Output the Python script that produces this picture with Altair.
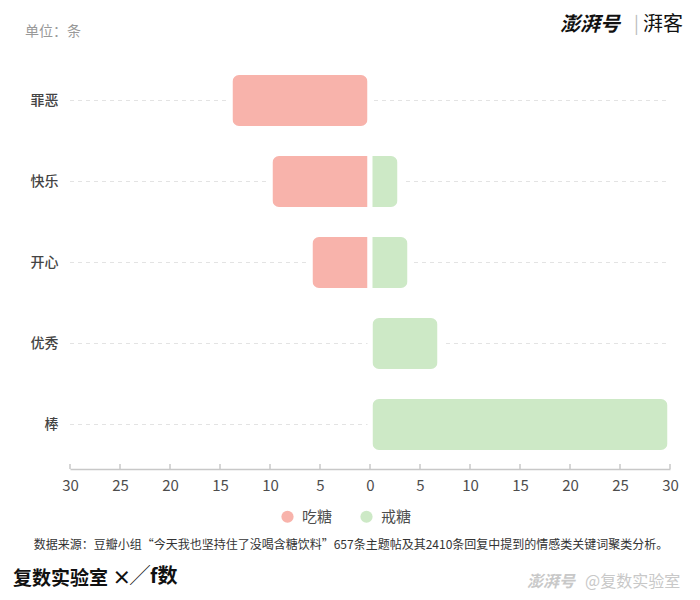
import altair as alt
import pandas as pd

categories = ["罪恶", "快乐", "开心", "优秀", "棒"]
eat_values = [14, 10, 6, 0, 0]      # 吃糖
quit_values = [0, 3, 4, 7, 30]      # 戒糖
groups = ["吃糖", "戒糖"]
colors = ["#f8b3ab", "#cde9c6"]
x_ticks = [-30, -25, -20, -15, -10, -5, 0, 5, 10, 15, 20, 25, 30]

rows = []
for c, e, q in zip(categories, eat_values, quit_values):
    if e:
        rows.append({"类别": c, "组": "吃糖", "值": -e})
    if q:
        rows.append({"类别": c, "组": "戒糖", "值": q})
bars_df = pd.DataFrame(rows)
cat_df = pd.DataFrame({"类别": categories})
tick_df = pd.DataFrame({"t": x_ticks})

FONT = "Noto Sans CJK SC"
W, H = 600, 405

yscale = alt.Scale(domain=categories, paddingInner=0.31, paddingOuter=0.155)
xscale = alt.Scale(domain=[-30, 30], nice=False)

grid = alt.Chart(cat_df).mark_rule(color="#e3e3e3", strokeDash=[4, 4], strokeWidth=1).encode(
    y=alt.Y("类别:N", scale=yscale, sort=categories,
            axis=alt.Axis(title=None, domain=False, ticks=False, labelFontSize=14,
                          labelColor="#444444", labelFont=FONT, labelFontWeight=500,
                          labelPadding=12)),
    x=alt.value(0), x2=alt.value(W),
)

bars = alt.Chart(bars_df).mark_bar(cornerRadius=9, stroke="white", strokeWidth=5).encode(
    y=alt.Y("类别:N", scale=yscale, sort=categories),
    x=alt.X("值:Q", scale=xscale,
            axis=alt.Axis(title=None, values=x_ticks, labelExpr="abs(datum.value)", ticks=False,
                          grid=False, domainColor="#c8c8c8", domainWidth=1.5, offset=4,
                          labelFlush=False, labelOverlap=False,
                          labelFontSize=15, labelColor="#4d4d4d", labelFont=FONT, labelPadding=9)),
    x2=alt.value(W / 2),
    color=alt.Color("组:N", scale=alt.Scale(domain=groups, range=colors),
                    legend=alt.Legend(title=None, orient="none", legendX=210, legendY=449,
                                      direction="horizontal", symbolType="circle", symbolSize=150,
                                      symbolStrokeWidth=0, labelFontSize=15, labelColor="#4d4d4d",
                                      labelFont=FONT, columnPadding=26, labelOffset=7)),
)

ticks = alt.Chart(tick_df).mark_rule(color="#c8c8c8", strokeWidth=1.5).encode(
    x=alt.X("t:Q", scale=xscale),
    y=alt.value(H - 1), y2=alt.value(H + 4),
)

def txt(text, x, y, size, color, weight="normal", align="left", italic=False, font=FONT):
    kw = dict(text=text, fontSize=size, color=color, fontWeight=weight, align=align,
              baseline="middle", font=font)
    if italic:
        kw["fontStyle"] = "italic"
    return alt.Chart(pd.DataFrame({"a": [0]})).mark_text(**kw).encode(x=alt.value(x), y=alt.value(y))

texts = [
    txt("单位：条", -45, -28, 14, "#999999"),
    txt("澎湃号", 490, -35, 20, "#111111", weight="bold", italic=True),
    txt("|", 564, -35, 18, "#bbbbbb"),
    txt("湃客", 573, -35, 20, "#111111"),
    txt("数据来源：豆瓣小组“今天我也坚持住了没喝含糖饮料”657条主题帖及其2410条回复中提到的情感类关键词聚类分析。",
        281, 485, 12, "#333333", align="center"),
    txt("复数实验室 ×", -57, 519, 19, "#111111", weight="bold"),
    txt("╱f数", 60, 517, 20, "#111111", weight="bold"),
    txt("澎湃号", 457, 522, 16, "#c8c8c8", weight="bold", italic=True),
    txt("@复数实验室", 515, 522, 16, "#c8c8c8"),
]

chart = alt.layer(grid, bars, ticks, *texts).properties(
    width=W, height=H,
    padding={"left": 62, "top": 52, "right": 22, "bottom": 130},
    autosize=alt.AutoSizeParams(type="none"),
    background="white",
).configure_view(strokeWidth=0, stroke=None)

chart.save("out.html", embed_options={"renderer": "svg", "actions": False})
